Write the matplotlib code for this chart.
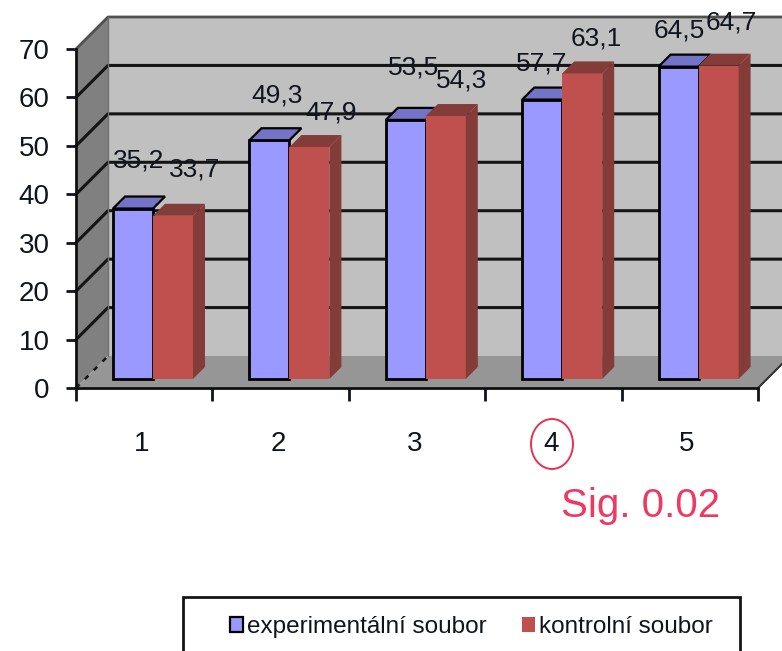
import numpy as np
import matplotlib
matplotlib.use('Agg')
import matplotlib.pyplot as plt
from matplotlib.patches import Polygon, Rectangle, Ellipse

plt.rcParams['font.family'] = ['Liberation Sans', 'DejaVu Sans']

# Data
categories = ['1', '2', '3', '4', '5']
experimental = [35.2, 49.3, 53.5, 57.7, 64.5]
control = [33.7, 47.9, 54.3, 63.1, 64.7]
exp_labels = ['35,2', '49,3', '53,5', '57,7', '64,5']
ctrl_labels = ['33,7', '47,9', '54,3', '63,1', '64,7']
y_ticks = [0, 10, 20, 30, 40, 50, 60, 70]
series_names = ['experimentální soubor', 'kontrolní soubor']

# Label offsets from the bar top, pixels (the original labels sit unevenly)
exp_offsets = [(6, 48), (8, 45), (8, 52), (0, 36), (1, 36)]
ctrl_offsets = [(22, 46), (22, 35), (16, 36), (14, 35), (13, 43)]

# Colours
wall_col = '#c0c0c0'
side_col = '#808080'
floor_col = '#969696'
blue = '#9999ff'
blue_top = '#7373c8'
red = '#c0504d'
red_dark = '#843c39'

W, H = 782, 651
fig = plt.figure(figsize=(W / 100, H / 100), dpi=100)
ax = fig.add_axes([76 / W, (H - 388) / H, (758 - 76) / W, (388 - 49) / H])
ax.set_xlim(0, 5)
ax.set_ylim(0, 70)
ax.patch.set_alpha(0)

# pixel sizes in data units
px = 5 / (758 - 76)
py = 70 / (388 - 49)
wall_dx, wall_dy = 32 * px, 32 * py
bar_w = 40 * px
bar_left = 37 * px
bar_base = 9 * py
depth_x, depth_y = 12 * px, 12 * py

x_end = 6  # past the picture edge, gets cut off by the figure


def poly(pts, fc, z, ec='none', lw=0):
    ax.add_patch(Polygon(pts, closed=True, fc=fc, ec=ec, lw=lw, zorder=z, clip_on=False))


# back wall, side wall, floor
poly([(wall_dx, wall_dy), (x_end, wall_dy), (x_end, 70 + wall_dy), (wall_dx, 70 + wall_dy)], wall_col, 1)
poly([(0, 0), (wall_dx, wall_dy), (wall_dx, 70 + wall_dy), (0, 70)], side_col, 1)
poly([(0, 0), (5, 0), (5 + wall_dx, wall_dy), (wall_dx, wall_dy)], floor_col, 1)

# gridlines on the walls
for v in y_ticks[1:-1]:
    ax.plot([0, wall_dx, x_end], [v, v + wall_dy, v + wall_dy], color='#151515', lw=2.2, zorder=2, clip_on=False)
ax.plot([0, wall_dx, x_end], [70, 70 + wall_dy, 70 + wall_dy], color='#505050', lw=2, zorder=2, clip_on=False)
ax.plot([wall_dx, wall_dx], [wall_dy, 70 + wall_dy], color='#707070', lw=1, zorder=2, clip_on=False)
ax.plot([0, wall_dx], [0, wall_dy], color='#151515', lw=1.8, ls=(0, (2, 3)), zorder=2, clip_on=False)
ax.plot([5, 5 + wall_dx], [0, wall_dy], color='#303030', lw=1.5, zorder=2, clip_on=False)

# bars
pos = np.arange(len(categories))
x_blue = pos + bar_left
x_red = x_blue + bar_w
ax.bar(x_blue, experimental, bar_w, bottom=bar_base, align='edge', color=blue,
       edgecolor='black', linewidth=2, zorder=4)
ax.bar(x_red, control, bar_w, bottom=bar_base, align='edge', color=red, zorder=5)

for xb, xr, vb, vr in zip(x_blue, x_red, experimental, control):
    tb = vb + bar_base
    tr = vr + bar_base
    poly([(xb, tb), (xb + bar_w, tb), (xb + bar_w + depth_x, tb + depth_y), (xb + depth_x, tb + depth_y)],
         blue_top, 4, ec='black', lw=1.6)
    poly([(xr, tr), (xr + bar_w, tr), (xr + bar_w + depth_x, tr + depth_y), (xr + depth_x, tr + depth_y)],
         red_dark, 5)
    poly([(xr + bar_w, bar_base), (xr + bar_w + depth_x, bar_base + depth_y),
          (xr + bar_w + depth_x, tr + depth_y), (xr + bar_w, tr)], red_dark, 5)

# data labels
for xs, vals, labs, offs in [(x_blue, experimental, exp_labels, exp_offsets),
                             (x_red, control, ctrl_labels, ctrl_offsets)]:
    for xx, v, lab, off in zip(xs, vals, labs, offs):
        ax.annotate(lab, (xx + bar_w / 2, v + bar_base), xytext=off, textcoords='offset pixels',
                    ha='center', va='center', fontsize=19, color='#10141c', zorder=8,
                    annotation_clip=False)

# axes
for s in ['top', 'right']:
    ax.spines[s].set_visible(False)
for s in ['left', 'bottom']:
    ax.spines[s].set_linewidth(2)
    ax.spines[s].set_color('#101010')
    ax.spines[s].set_zorder(6)
ax.set_yticks(y_ticks)
ax.tick_params(axis='y', length=7, width=2, labelsize=20, pad=12, colors='#10141c')
ax.set_xticks(np.arange(len(categories) + 1))
ax.set_xticklabels([])
ax.set_xticks(pos + 0.48, minor=True)
ax.set_xticklabels(categories, minor=True)
ax.tick_params(axis='x', which='major', length=9.5, width=2, colors='#10141c')
ax.tick_params(axis='x', which='minor', length=0, labelsize=20, pad=31, colors='#10141c')

# hand annotation: circle around 4 and significance
ax.add_patch(Ellipse((3 + (552 - 76 - 3 * 136.4) * px, -56 * py), 42 * px, 50 * py, fc='none',
                     ec='#e8324f', lw=1.4, clip_on=False, zorder=8))
ax.text(641 / W, (H - 506) / H, 'Sig. 0.02', transform=fig.transFigure, ha='center', va='center',
        fontsize=29, color='#ee3a62')

# legend, the box runs off the bottom of the picture
fig.add_artist(Rectangle((183 / W, -10 / H), (740 - 183) / W, (H - 597 + 10) / H, transform=fig.transFigure,
                         fc='white', ec='#151515', lw=2))
handles = [Rectangle((0, 0), 1, 1, fc=blue, ec='black', lw=1.6), Rectangle((0, 0), 1, 1, fc=red)]
fig.legend(handles, series_names, ncol=2, frameon=False, loc='center left',
           bbox_to_anchor=(208 / W, (H - 627) / H), fontsize=17.5, handlelength=0.55, handleheight=0.55,
           handletextpad=0.15, columnspacing=1.45, labelcolor='#10141c')

fig.savefig('out.png', dpi=100)
